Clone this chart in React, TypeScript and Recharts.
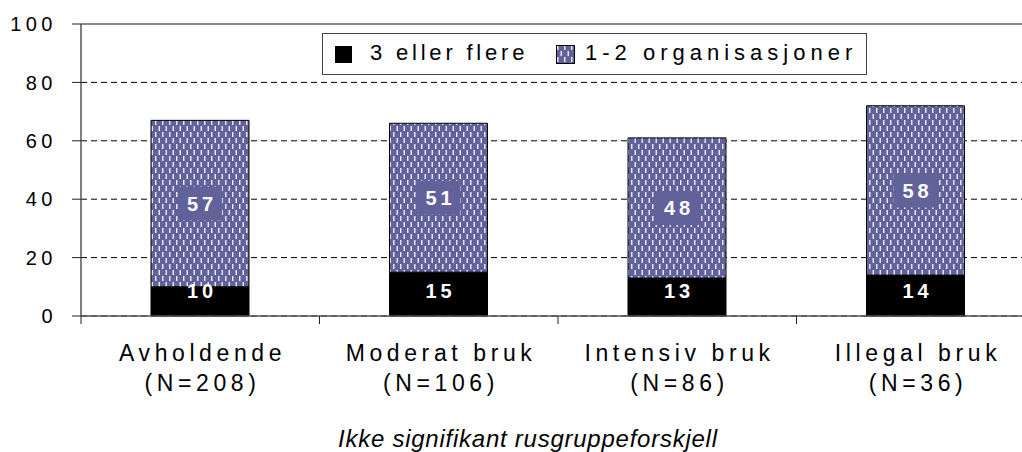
import React from "react"
import { BarChart, Bar, XAxis, YAxis, CartesianGrid, ReferenceLine, LabelList } from "recharts"

const categories = ["Avholdende", "Moderat bruk", "Intensiv bruk", "Illegal bruk"]
const groupSizes = ["(N=208)", "(N=106)", "(N=86)", "(N=36)"]
const threeOrMore = [10, 15, 13, 14]
const oneToTwo = [57, 51, 48, 58]
const yTicks = [0, 20, 40, 60, 80, 100]

const seriesNames = ["3 eller flere", "1-2 organisasjoner"]
const caption = "Ikke signifikant rusgruppeforskjell"

const data = categories.map((name, i) => ({
  name,
  many: threeOrMore[i],
  few: oneToTwo[i],
}))

const FONT = '"Liberation Sans", Arial, sans-serif'
const PURPLE = "#62629a"

function DotPattern({ id }: { id: string }) {
  return (
    <pattern id={id} width="7" height="12" patternUnits="userSpaceOnUse">
      <rect width="7" height="12" fill={PURPLE} />
      <rect x="1" y="0" width="1.5" height="5" fill="#e4e4f2" />
      <rect x="4.5" y="6" width="1.5" height="5" fill="#e4e4f2" />
    </pattern>
  )
}

function YTick(props: any) {
  const { x, y, payload } = props
  return (
    <text x={x} y={y} dy="0.36em" textAnchor="end" fontSize={20} letterSpacing={4.5} fill="#000" fontFamily={FONT}>
      {payload.value}
    </text>
  )
}

function CategoryTick(props: any) {
  const { x, y, payload, index } = props
  const half = payload.offset || 119
  const ls = 4.6
  return (
    <g>
      <line x1={x - half} x2={x - half} y1={y} y2={y + 8} stroke="#222" />
      {index === categories.length - 1 && <line x1={x + half} x2={x + half} y1={y} y2={y + 8} stroke="#222" />}
      <text x={x + ls / 2} y={y + 45} textAnchor="middle" fontSize={23} letterSpacing={ls} fill="#000" fontFamily={FONT}>
        {payload.value}
      </text>
      <text x={x + ls / 2} y={y + 75} textAnchor="middle" fontSize={23} letterSpacing={ls} fill="#000" fontFamily={FONT}>
        {groupSizes[index]}
      </text>
    </g>
  )
}

function TopLabel(props: any) {
  const { x, y, width, height, value } = props
  const cx = x + width / 2
  const cy = y + height / 2
  return (
    <g>
      <rect x={cx - 22} y={cy - 17} width={44} height={34} fill={PURPLE} />
      <text x={cx + 2} y={cy} dy="0.36em" textAnchor="middle" fontSize={20} fontWeight="bold" letterSpacing={4} fill="#fff" fontFamily={FONT}>
        {value}
      </text>
    </g>
  )
}

function BottomLabel(props: any) {
  const { x, y, width, height, value } = props
  const cx = x + width / 2
  const cy = y + height - 25
  return (
    <text x={cx + 2} y={cy} dy="0.36em" textAnchor="middle" fontSize={20} fontWeight="bold" letterSpacing={4} fill="#fff" fontFamily={FONT}>
      {value}
    </text>
  )
}

export default function App() {
  const legendText = { position: "absolute" as const, top: 6, fontSize: 22, fontFamily: FONT, color: "#000", lineHeight: "26px" }
  return (
    <div style={{ position: "fixed", left: 0, top: 0, width: 1022, height: 452, overflow: "hidden", background: "#fff" }}>
      <BarChart width={1040} height={452} data={data} margin={{ top: 24, right: 5, left: 0, bottom: 0 }} barSize={98}>
        <defs>
          <DotPattern id="dots" />
        </defs>
        <CartesianGrid vertical={false} stroke="#000" strokeDasharray="6 4" />
        <ReferenceLine y={100} stroke="#8a8a8a" strokeWidth={2} />
        <XAxis
          dataKey="name"
          interval={0}
          height={136}
          tickLine={false}
          tickSize={0}
          tickMargin={0}
          tick={<CategoryTick />}
          axisLine={{ stroke: "#555", strokeWidth: 1.5 }}
        />
        <YAxis
          domain={[0, 100]}
          ticks={yTicks}
          width={81}
          tickSize={9}
          tickMargin={15}
          tick={<YTick />}
          tickLine={{ stroke: "#222" }}
          axisLine={{ stroke: "#555", strokeWidth: 1.5 }}
        />
        <Bar dataKey="many" stackId="a" fill="#000" stroke="#000" isAnimationActive={false}>
          <LabelList dataKey="many" content={<BottomLabel />} />
        </Bar>
        <Bar dataKey="few" stackId="a" fill="url(#dots)" stroke="#000" strokeWidth={1} isAnimationActive={false}>
          <LabelList dataKey="few" content={<TopLabel />} />
        </Bar>
      </BarChart>

      <div style={{ position: "absolute", left: 322, top: 33, width: 543, height: 40, border: "1px solid #444", background: "#fff" }}>
        <div style={{ position: "absolute", left: 12, top: 12, width: 17, height: 17, background: "#000" }} />
        <div style={{ ...legendText, left: 47, letterSpacing: 3.8 }}>{seriesNames[0]}</div>
        <svg style={{ position: "absolute", left: 233, top: 11 }} width={19} height={19}>
          <defs>
            <DotPattern id="dotsLegend" />
          </defs>
          <rect x={0.5} y={0.5} width={18} height={18} fill="url(#dotsLegend)" stroke="#000" />
        </svg>
        <div style={{ ...legendText, left: 262, letterSpacing: 5 }}>{seriesNames[1]}</div>
      </div>

      <div
        style={{
          position: "absolute",
          left: 338,
          top: 427,
          fontSize: 24,
          lineHeight: "24px",
          fontStyle: "italic",
          letterSpacing: 0.75,
          fontFamily: FONT,
          color: "#000",
          whiteSpace: "nowrap",
        }}
      >
        {caption}
      </div>
    </div>
  )
}
